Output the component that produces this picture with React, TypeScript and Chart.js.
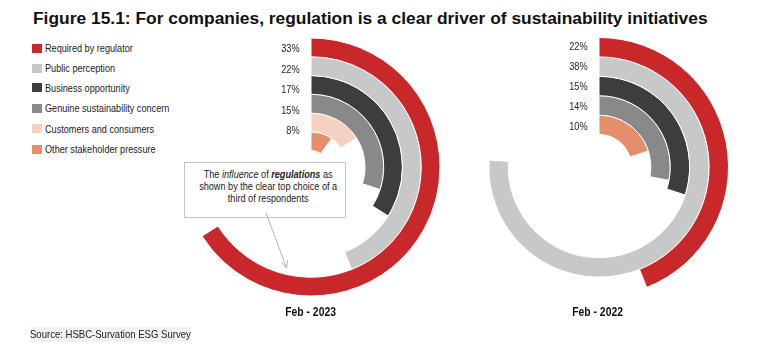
import React, { useEffect, useRef } from "react";
import { Chart, registerables } from "chart.js";

Chart.register(...registerables);

// ---------- data ----------
const categories = [
  "Required by regulator",
  "Public perception",
  "Business opportunity",
  "Genuine sustainability concern",
  "Customers and consumers",
  "Other stakeholder pressure",
];
const colors = ["#c8282a", "#c8c8c8", "#3d3d3d", "#898989", "#f5d1c0", "#e48e6c"];

const values2023: (number | null)[] = [33, 22, 17, 15, 8, 5];
const labels2023 = ["33%", "22%", "17%", "15%", "8%", ""];

const values2022: (number | null)[] = [22, 38, 15, 14, null, 10];
const labels2022 = ["22%", "38%", "15%", "14%", "", "10%"];

const scaleMax = 50; // a full turn of a ring

const FONT = "'Liberation Sans', Arial, sans-serif";
const NARROW = 0.83;

type RingProps = {
  values: (number | null)[];
  labels: string[];
  cx: number;
  cy: number;
  radius: number;
  cutout: string;
  labelBase: number;
  labelShift: number;
};

function RingChart({ values, labels, cx, cy, radius, cutout, labelBase, labelShift }: RingProps) {
  const ref = useRef<HTMLCanvasElement>(null);
  const size = 300;
  useEffect(() => {
    const idx = values.map((v, i) => (v == null ? -1 : i)).filter((i) => i >= 0);
    const chart = new Chart(ref.current as HTMLCanvasElement, {
      type: "doughnut",
      data: {
        labels: ["value", "rest"],
        datasets: idx.map((i) => ({
          label: categories[i],
          data: [values[i] as number, scaleMax - (values[i] as number)],
          backgroundColor: [colors[i], "rgba(0,0,0,0)"],
          borderColor: ["#ffffff", "rgba(0,0,0,0)"],
          borderWidth: [1, 0],
        })),
      },
      options: {
        animation: false,
        responsive: false,
        radius,
        cutout,
        events: [],
        layout: { padding: 0 },
        plugins: { legend: { display: false }, tooltip: { enabled: false } },
      } as any,
      plugins: [
        {
          id: "ringLabels",
          afterDatasetsDraw(c: any) {
            const ctx = c.ctx;
            idx.forEach((catIdx, k) => {
              const text = labels[catIdx];
              if (!text) return;
              const arc: any = c.getDatasetMeta(k).data[0];
              const mid = (arc.outerRadius + arc.innerRadius) / 2;
              ctx.save();
              ctx.translate(arc.x - 11.5, arc.y - mid + labelBase + labelShift * k);
              ctx.scale(NARROW, 1);
              ctx.font = "11px " + FONT;
              ctx.fillStyle = "#222";
              ctx.textAlign = "right";
              ctx.textBaseline = "middle";
              ctx.fillText(text, 0, 0);
              ctx.restore();
            });
          },
        },
      ],
    });
    return () => chart.destroy();
  }, []);
  return (
    <canvas
      ref={ref}
      width={size}
      height={size}
      style={{ position: "absolute", left: cx - size / 2, top: cy - size / 2, width: size, height: size }}
    />
  );
}

const legendTops = [48.3, 68.3, 87.5, 108.3, 128.5, 149];

const narrow = (origin: string): React.CSSProperties => ({
  display: "inline-block",
  transform: `scaleX(${NARROW})`,
  transformOrigin: origin,
  whiteSpace: "nowrap",
});

export default function App() {
  return (
    <div
      style={{
        position: "fixed",
        left: 0,
        top: 0,
        width: 762,
        height: 360,
        background: "#fff",
        fontFamily: FONT,
        overflow: "hidden",
      }}
    >
      <div
        style={{
          position: "absolute",
          left: 33,
          top: 6.5,
          fontSize: 17.4,
          fontWeight: "bold",
          color: "#111",
          whiteSpace: "nowrap",
          lineHeight: "22px",
        }}
      >
        Figure 15.1: For companies, regulation is a clear driver of sustainability initiatives
      </div>

      {categories.map((c, i) => (
        <div key={c}>
          <div
            style={{
              position: "absolute",
              left: 31.5,
              top: legendTops[i] - 4.5,
              width: 10,
              height: 9,
              background: colors[i],
            }}
          />
          <div
            style={{
              position: "absolute",
              left: 45,
              top: legendTops[i] - 7,
              fontSize: 11,
              lineHeight: "14px",
              color: "#222",
              whiteSpace: "nowrap",
            }}
          >
            <span style={narrow("left center")}>{c}</span>
          </div>
        </div>
      ))}

      <RingChart
        values={values2023}
        labels={labels2023}
        cx={311}
        cy={166.5}
        radius={129}
        cutout="12.8%"
        labelBase={2}
        labelShift={1.7}
      />
      <RingChart
        values={values2022}
        labels={labels2022}
        cx={598.5}
        cy={166.5}
        radius={129.5}
        cutout="25.1%"
        labelBase={0}
        labelShift={0.5}
      />

      <div
        style={{
          position: "absolute",
          left: 184,
          top: 162,
          width: 160,
          height: 48,
          border: "1px solid #c4c4c4",
          background: "#fff",
          textAlign: "center",
          fontSize: 11,
          lineHeight: "11.8px",
          color: "#222",
          paddingTop: 6,
          boxSizing: "content-box",
        }}
      >
        <span style={narrow("center center")}>
          The <i>influence</i> of <b><i>regulations</i></b> as
          <br />
          shown by the clear top choice of a
          <br />
          third of respondents
        </span>
      </div>
      <svg
        width={762}
        height={360}
        style={{ position: "absolute", left: 0, top: 0, pointerEvents: "none" }}
      >
        <line x1={266} y1={213} x2={286.5} y2={267.5} stroke="#b4b4b4" strokeWidth={1} />
        <polyline
          points="281.5,262 286.5,268 287.5,260"
          fill="none"
          stroke="#b4b4b4"
          strokeWidth={1}
        />
      </svg>

      <div
        style={{
          position: "absolute",
          left: 261,
          width: 100,
          top: 304,
          textAlign: "center",
          fontWeight: "bold",
          fontSize: 12.5,
          lineHeight: "16px",
          color: "#111",
        }}
      >
        <span style={narrow("center center")}>Feb - 2023</span>
      </div>
      <div
        style={{
          position: "absolute",
          left: 548,
          width: 100,
          top: 304,
          textAlign: "center",
          fontWeight: "bold",
          fontSize: 12.5,
          lineHeight: "16px",
          color: "#111",
        }}
      >
        <span style={narrow("center center")}>Feb - 2022</span>
      </div>

      <div
        style={{
          position: "absolute",
          left: 30,
          top: 327,
          width: 161,
          fontSize: 11.5,
          lineHeight: "15px",
          color: "#222",
          background: "#f1f1f1",
          whiteSpace: "nowrap",
          overflow: "visible",
        }}
      >
        <span style={narrow("left center")}>Source: HSBC-Survation ESG Survey</span>
      </div>
    </div>
  );
}
